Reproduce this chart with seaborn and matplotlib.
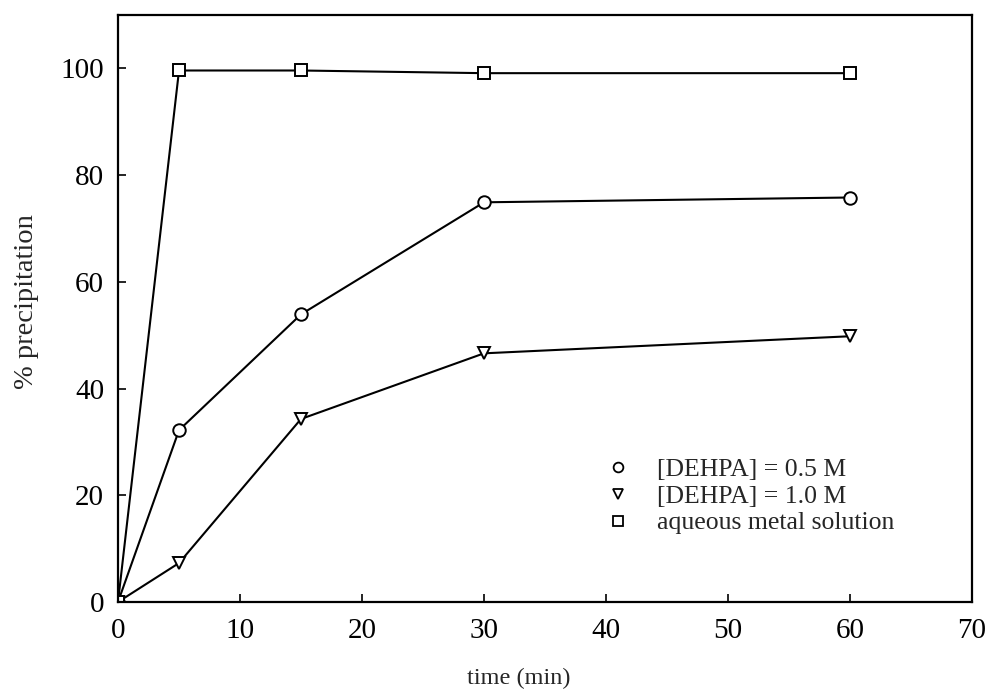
import matplotlib
matplotlib.use("Agg")
import matplotlib.pyplot as plt
from matplotlib.lines import Line2D
import seaborn as sns
import pandas as pd

time_min = [0, 5, 15, 30, 60]
dehpa_05 = [0, 32.2, 53.9, 74.9, 75.8]
dehpa_10 = [0, 7.3, 34.3, 46.6, 49.8]
aqueous = [0, 99.6, 99.6, 99.1, 99.1]

labels = ["[DEHPA] = 0.5 M", "[DEHPA] = 1.0 M", "aqueous metal solution"]
series = [dehpa_05, dehpa_10, aqueous]
marker_map = {labels[0]: "o", labels[1]: "v", labels[2]: "s"}

df = pd.DataFrame({
    "time": time_min * 3,
    "pct": [v for s in series for v in s],
    "series": [lab for lab in labels for _ in time_min],
})

sns.set_theme(style="ticks")
plt.rcParams["font.family"] = ["Liberation Serif", "DejaVu Serif"]

fig = plt.figure(figsize=(9.89, 6.92), dpi=100)
ax = fig.add_axes([118 / 989, 1 - 602 / 692, (972 - 118) / 989, (602 - 15) / 692])

sns.lineplot(data=df, x="time", y="pct", style="series", markers=marker_map,
             dashes=False, color="black", linewidth=1.5, markersize=9,
             markerfacecolor="white", markeredgecolor="black", markeredgewidth=1.4,
             legend=False, ax=ax, estimator=None, sort=False)

ax.set_xlim(0, 70)
ax.set_ylim(0, 110)
ax.set_xticks(range(0, 71, 10))
ax.set_yticks(range(0, 101, 20))
ax.tick_params(direction="in", length=6, width=1.2, labelsize=21, colors="black")
ax.tick_params(axis="x", pad=11.5)
ax.tick_params(axis="y", pad=10)
for sp in ax.spines.values():
    sp.set_linewidth(1.6)
    sp.set_color("black")
    sp.set_visible(True)

ax.set_xlabel("time (min)", fontsize=17.5)
ax.set_ylabel("% precipitation", fontsize=20.5)
ax.xaxis.set_label_coords(0.469, -0.113)
ax.yaxis.set_label_coords(-0.093, 0.511)

handles = [Line2D([], [], linestyle="none", marker=marker_map[lab], markersize=7,
                  markerfacecolor="white", markeredgecolor="black", markeredgewidth=1.3)
           for lab in labels]
ax.legend(handles, labels, loc="lower left", bbox_to_anchor=(0.571, 0.115),
          frameon=False, fontsize=18.5, handletextpad=1.0, labelspacing=0.14,
          handlelength=1.0, borderaxespad=0, borderpad=0)

fig.savefig("out.png", dpi=100, facecolor="white")
